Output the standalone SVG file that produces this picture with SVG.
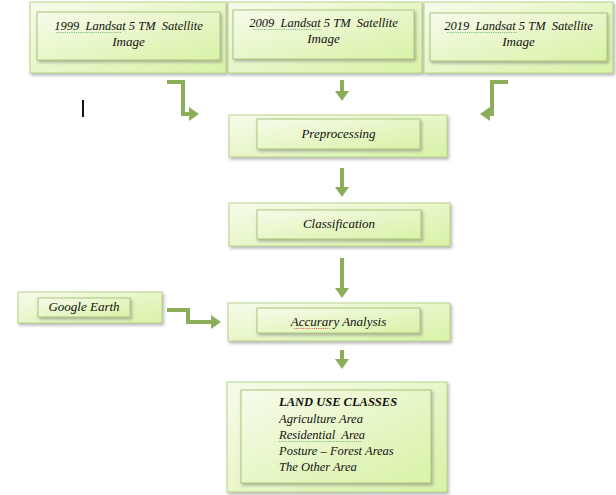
<svg xmlns="http://www.w3.org/2000/svg" width="616" height="495" viewBox="0 0 616 495">
<defs>
<linearGradient id="g" x1="0" y1="0" x2="1" y2="1">
<stop offset="0" stop-color="#f6fbeb"/>
<stop offset="1" stop-color="#d9f2a6"/>
</linearGradient>
<filter id="sh" x="-10%" y="-20%" width="125%" height="150%">
<feDropShadow dx="1.5" dy="2" stdDeviation="1.5" flood-color="#7a7a7a" flood-opacity="0.55"/>
</filter>
</defs>
<style>
.o{fill:url(#g);stroke:#b7d38c;stroke-width:1;filter:url(#sh)}
.i{fill:url(#g);stroke:#a9c67c;stroke-width:1;filter:url(#sh)}
.t{font-family:"Liberation Serif","Times New Roman",serif;font-style:italic;font-size:13px;fill:#111;text-anchor:middle}
.s{font-size:12.5px}
.l{font-family:"Liberation Serif","Times New Roman",serif;font-style:italic;font-size:12.5px;fill:#111}
.c{fill:none;stroke:#8cad5a;stroke-width:4}
.h{fill:#8cad5a}
.wg{fill:none;stroke:#5aa05a;stroke-width:0.7;stroke-dasharray:1.2 1}
.wr{fill:none;stroke:#d03030;stroke-width:0.7;stroke-dasharray:1.2 1}
</style>
<rect x="0" y="0" width="616" height="495" fill="#ffffff"/>

<g id="img1999">
<rect class="o" x="30" y="2" width="196" height="71"/>
<rect class="i" x="37" y="12" width="183" height="48"/>
<text class="t s" x="128.5" y="30" xml:space="preserve">1999  Landsat 5 TM  Satellite</text>
<text class="t" x="128.5" y="46">Image</text>
<path class="wg" d="M56,32.5 H121"/>
</g>

<g id="img2009">
<rect class="o" x="228" y="2" width="194" height="71"/>
<rect class="i" x="233" y="10" width="181" height="49"/>
<text class="t s" x="323.5" y="27" xml:space="preserve">2009  Landsat 5 TM  Satellite</text>
<text class="t" x="323.5" y="43">Image</text>
<path class="wg" d="M253,29.5 H322"/>
</g>

<g id="img2019">
<rect class="o" x="424" y="2" width="189" height="71"/>
<rect class="i" x="430" y="13" width="177" height="48"/>
<text class="t s" x="518.5" y="30" xml:space="preserve">2019  Landsat 5 TM  Satellite</text>
<text class="t" x="518.5" y="46">Image</text>
<path class="wg" d="M447,32.5 H517"/>
</g>

<g id="preprocessing">
<rect class="o" x="229" y="115" width="218" height="42"/>
<rect class="i" x="257" y="119" width="163" height="30"/>
<text class="t" x="338.5" y="138">Preprocessing</text>
</g>

<g id="classification">
<rect class="o" x="229" y="203" width="221" height="43"/>
<rect class="i" x="257" y="210" width="164" height="29"/>
<text class="t" x="339" y="228">Classification</text>
</g>

<g id="google">
<rect class="o" x="18" y="292" width="144" height="31"/>
<rect class="i" x="38" y="298" width="92" height="19"/>
<text class="t" x="84" y="311">Google Earth</text>
</g>

<g id="accuracy">
<rect class="o" x="228" y="303" width="222" height="38"/>
<rect class="i" x="257" y="308" width="163" height="25"/>
<text class="t" x="338.5" y="326">Accurary Analysis</text>
<path class="wr" d="M294,328.5 H330"/>
</g>

<g id="landuse">
<rect class="o" x="227" y="382" width="220" height="110"/>
<rect class="i" x="241" y="390" width="190" height="93"/>
<text class="l" x="279" y="406" font-weight="bold">LAND USE CLASSES</text>
<text class="l" x="279" y="423">Agriculture Area</text>
<text class="l" x="279" y="439" xml:space="preserve">Residential  Area</text>
<text class="l" x="279" y="455">Posture – Forest Areas</text>
<text class="l" x="279" y="471">The Other Area</text>
<path class="wg" d="M279,441.5 H362"/>
</g>

<g id="connectors">
<path class="c" d="M167,82 H183 V114 H190"/>
<polygon class="h" points="189,107 199,114 189,121"/>
<path class="c" d="M342,80 V92"/>
<polygon class="h" points="335,91 349,91 342,101"/>
<path class="c" d="M508,82 H492 V114 H489"/>
<polygon class="h" points="490,107 480,114 490,121"/>
<path class="c" d="M342,168 V188"/>
<polygon class="h" points="335,187 349,187 342,197"/>
<path class="c" d="M342,258 V289"/>
<polygon class="h" points="335,288 349,288 342,298"/>
<path class="c" d="M167,310 H188 V322 H212"/>
<polygon class="h" points="211,315 221,322 211,329"/>
<path class="c" d="M342,350 V360"/>
<polygon class="h" points="335,359 349,359 342,369"/>
</g>

<rect x="82" y="100" width="2" height="17" fill="#111"/>
</svg>
